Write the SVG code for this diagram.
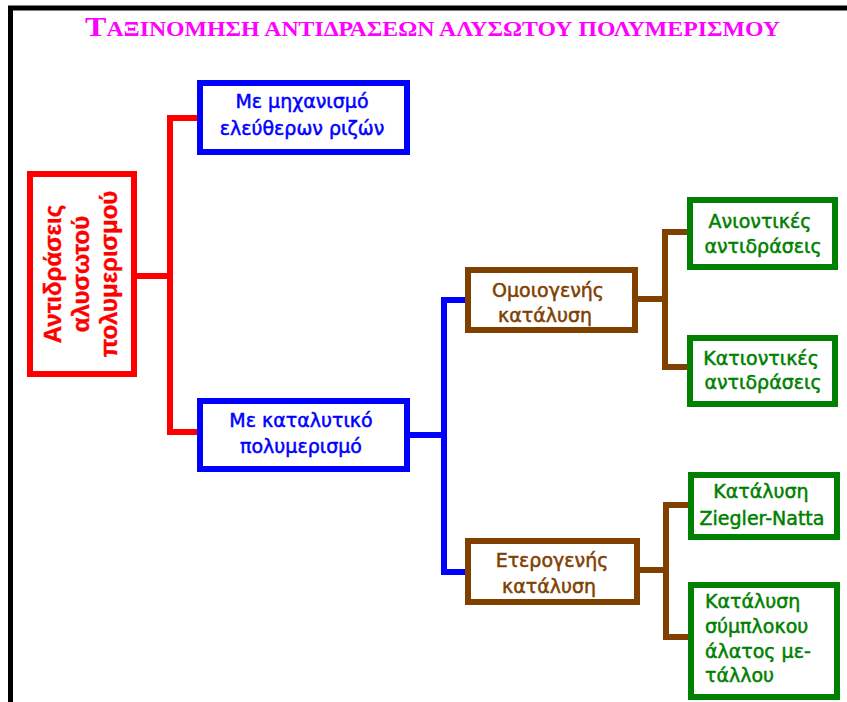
<svg xmlns="http://www.w3.org/2000/svg" width="847" height="702" viewBox="0 0 847 702">
  <style>
    .box { fill: #ffffff; stroke-width: 6; }
    .red { stroke: #ff0000; }
    .blue { stroke: #0000ff; }
    .brown { stroke: #804000; }
    .green { stroke: #008000; }
    .wire { fill: none; stroke-width: 6; stroke-linejoin: miter; stroke-linecap: butt; }
    .lbl { font-family: "DejaVu Sans", "Liberation Sans", sans-serif; font-size: 19px; text-anchor: middle; stroke-width: 0.5; }
    .left { text-anchor: start; }
    .tb { fill: #0000ff; stroke: #0000ff; }
    .tbr { fill: #804000; stroke: #804000; }
    .tg { fill: #008000; stroke: #008000; }
    .root { font-family: "Liberation Sans", Arial, sans-serif; font-size: 24px; font-weight: bold; fill: #ff0000; stroke: #ff0000; stroke-width: 0.4; text-anchor: middle; }
    .title { font-family: "Liberation Serif", "Times New Roman", serif; font-weight: bold; font-size: 20px; fill: #ff00ff; }
  </style>

  <rect width="847" height="702" fill="#ffffff"/>
  <!-- page frame: top and left rules -->
  <path d="M10.5,702 V8 H847" fill="none" stroke="#000000" stroke-width="5"/>

  <!-- heading -->
  <text class="title" x="85" y="36" textLength="695" lengthAdjust="spacingAndGlyphs"><tspan font-size="27">Τ</tspan>ΑΞΙΝΟΜΗΣΗ ΑΝΤΙΔΡΑΣΕΩΝ ΑΛΥΣΩΤΟΥ ΠΟΛΥΜΕΡΙΣΜΟΥ</text>

  <!-- connectors -->
  <g id="connectors">
    <path class="wire red" d="M137,276 H170 M198,118 H170 V432 H198"/>
    <path class="wire blue" d="M410,435 H444 M466,300 H444 V572 H466"/>
    <path class="wire brown" d="M638,299 H665 M688,232 H665 V367 H688"/>
    <path class="wire brown" d="M640,570 H666 M689,505 H666 V637 H689"/>
  </g>

  <!-- root -->
  <g id="root">
    <rect class="box red" x="30" y="174" width="104" height="200"/>
    <g transform="translate(0,274) rotate(-90)">
      <text class="root" x="0" y="61">Αντιδράσεις</text>
      <text class="root" x="0" y="89">αλυσωτού</text>
      <text class="root" x="0" y="117">πολυμερισμού</text>
    </g>
  </g>

  <!-- second level -->
  <g id="free-radical">
    <rect class="box blue" x="200" y="83" width="207" height="69"/>
    <text class="lbl tb" x="302" y="108">Με μηχανισμό</text>
    <text class="lbl tb" x="302" y="135">ελεύθερων ριζών</text>
  </g>
  <g id="catalytic">
    <rect class="box blue" x="200" y="401" width="207" height="68"/>
    <text class="lbl tb" x="301" y="427">Με καταλυτικό</text>
    <text class="lbl tb" x="301" y="453">πολυμερισμό</text>
  </g>

  <!-- third level -->
  <g id="homogeneous">
    <rect class="box brown" x="468" y="270" width="167" height="60"/>
    <text class="lbl tbr" x="548" y="297">Ομοιογενής</text>
    <text class="lbl tbr" x="545" y="322">κατάλυση</text>
  </g>
  <g id="heterogeneous">
    <rect class="box brown" x="468" y="541" width="169" height="61"/>
    <text class="lbl tbr" x="552" y="567">Ετερογενής</text>
    <text class="lbl tbr" x="549" y="593">κατάλυση</text>
  </g>

  <!-- leaves -->
  <g id="anionic">
    <rect class="box green" x="690" y="200" width="145" height="67"/>
    <text class="lbl tg" x="760" y="228">Ανιοντικές</text>
    <text class="lbl tg" x="763" y="253">αντιδράσεις</text>
  </g>
  <g id="cationic">
    <rect class="box green" x="690" y="338" width="145" height="66"/>
    <text class="lbl tg" x="761" y="365">Κατιοντικές</text>
    <text class="lbl tg" x="763" y="389">αντιδράσεις</text>
  </g>
  <g id="ziegler-natta">
    <rect class="box green" x="691" y="475" width="146" height="62"/>
    <text class="lbl tg" x="761" y="498">Κατάλυση</text>
    <text class="lbl tg" x="762" y="525">Ziegler-Natta</text>
  </g>
  <g id="metal-complex">
    <rect class="box green" x="691" y="585" width="146" height="112"/>
    <text class="lbl tg left" x="705" y="608">Κατάλυση</text>
    <text class="lbl tg left" x="705" y="633">σύμπλοκου</text>
    <text class="lbl tg left" x="705" y="658">άλατος με-</text>
    <text class="lbl tg left" x="705" y="682">τάλλου</text>
  </g>
</svg>
